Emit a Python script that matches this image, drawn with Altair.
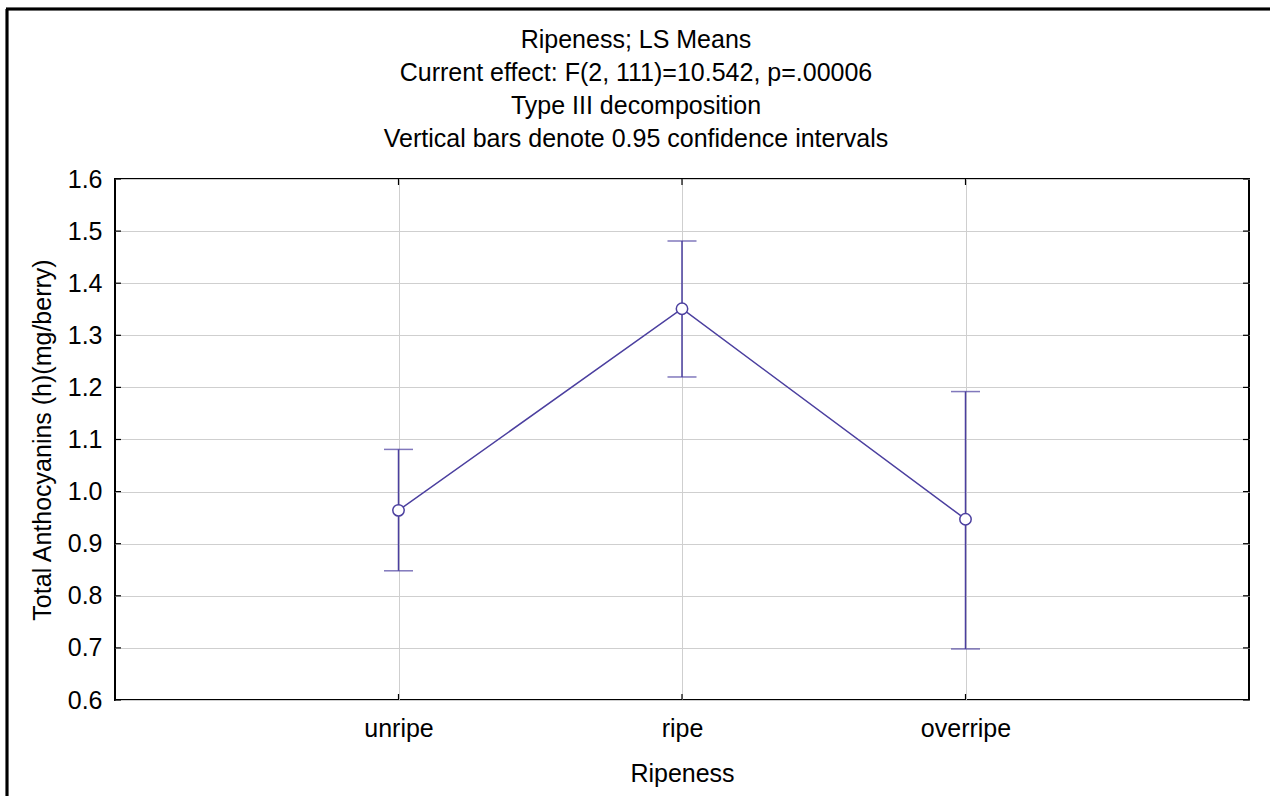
import altair as alt
import pandas as pd

categories = ["unripe", "ripe", "overripe"]
means = [0.964, 1.351, 0.947]
lower = [0.848, 1.220, 0.698]
upper = [1.081, 1.481, 1.192]
y_ticks = [0.6, 0.7, 0.8, 0.9, 1.0, 1.1, 1.2, 1.3, 1.4, 1.5, 1.6]
title_lines = [
    "Ripeness; LS Means",
    "Current effect: F(2, 111)=10.542, p=.00006",
    "Type III decomposition",
    "Vertical bars denote 0.95 confidence intervals",
]

df = pd.DataFrame({"Ripeness": categories, "mean": means, "lower": lower, "upper": upper})
tick_df = pd.DataFrame({"v": y_ticks})

W, H = 1134, 521
COLOR = "#4b3f9f"
FONT = "Liberation Sans"
FS = 25

xscale = alt.Scale(type="point", domain=categories, padding=1)
yscale = alt.Scale(domain=[0.6, 1.6], nice=False, zero=False)

xaxis = alt.Axis(title="Ripeness", labelAngle=0, ticks=False, domain=False, grid=True,
                 labelPadding=16, titlePadding=20)
yaxis = alt.Axis(title="Total Anthocyanins (h)(mg/berry)", values=y_ticks, format=".1f",
                 ticks=False, domain=False, grid=True, labelPadding=13, titlePadding=12)

X = alt.X("Ripeness:N", scale=xscale, sort=categories, axis=xaxis)

line = alt.Chart(df).mark_line(color=COLOR, strokeWidth=1.5).encode(
    x=X, y=alt.Y("mean:Q", scale=yscale, axis=yaxis)
)
vrule = alt.Chart(df).mark_rule(color=COLOR, strokeWidth=1.5).encode(
    x=X, y=alt.Y("lower:Q", scale=yscale, axis=yaxis), y2="upper:Q"
)
cap_lo = alt.Chart(df).mark_tick(color=COLOR, thickness=1.5, size=29, orient="horizontal").encode(
    x=X, y=alt.Y("lower:Q", scale=yscale, axis=yaxis)
)
cap_hi = alt.Chart(df).mark_tick(color=COLOR, thickness=1.5, size=29, orient="horizontal").encode(
    x=X, y=alt.Y("upper:Q", scale=yscale, axis=yaxis)
)
pts = alt.Chart(df).mark_point(shape="circle", size=130, filled=True, fill="white",
                               stroke=COLOR, strokeWidth=1.5, opacity=1).encode(
    x=X, y=alt.Y("mean:Q", scale=yscale, axis=yaxis)
)

# inward tick marks on all four sides
ytick_l = alt.Chart(tick_df).mark_rule(color="black", strokeWidth=1.2).encode(
    y=alt.Y("v:Q", scale=yscale, axis=yaxis), x=alt.value(0), x2=alt.value(6)
)
ytick_r = alt.Chart(tick_df).mark_rule(color="black", strokeWidth=1.2).encode(
    y=alt.Y("v:Q", scale=yscale, axis=yaxis), x=alt.value(W - 6), x2=alt.value(W)
)
xtick_t = alt.Chart(df).mark_rule(color="black", strokeWidth=1.2).encode(
    x=X, y=alt.value(0), y2=alt.value(6)
)
xtick_b = alt.Chart(df).mark_rule(color="black", strokeWidth=1.2).encode(
    x=X, y=alt.value(H - 6), y2=alt.value(H)
)

# outer frame of the figure (left and top edges)
frame_l = alt.Chart(df).mark_rule(color="black", strokeWidth=2.5).encode(
    x=alt.value(-108), y=alt.value(-170), y2=alt.value(H + 120)
)
frame_t = alt.Chart(df).mark_rule(color="black", strokeWidth=2.5).encode(
    x=alt.value(-109), x2=alt.value(W + 60), y=alt.value(-170)
)

chart = alt.layer(
    ytick_l, ytick_r, xtick_t, xtick_b, vrule, cap_lo, cap_hi, line, pts, frame_l, frame_t
).properties(
    width=W, height=H,
    title=alt.TitleParams(text=title_lines, font=FONT, fontSize=FS, fontWeight="normal",
                          color="black", lineHeight=33, anchor="middle", frame="group",
                          dx=-46, offset=-144),
    autosize=alt.AutoSizeParams(type="none"),
    padding={"left": 115, "top": 179, "right": 21, "bottom": 96},
    background="white",
).configure_view(
    stroke="black", strokeWidth=2
).configure_axis(
    gridColor="#cfcfcf", gridWidth=1, labelFont=FONT, labelFontSize=FS, labelColor="black",
    titleFont=FONT, titleFontSize=FS, titleFontWeight="normal", titleColor="black"
)

chart.save("out.html", embed_options={"renderer": "svg", "actions": False})
